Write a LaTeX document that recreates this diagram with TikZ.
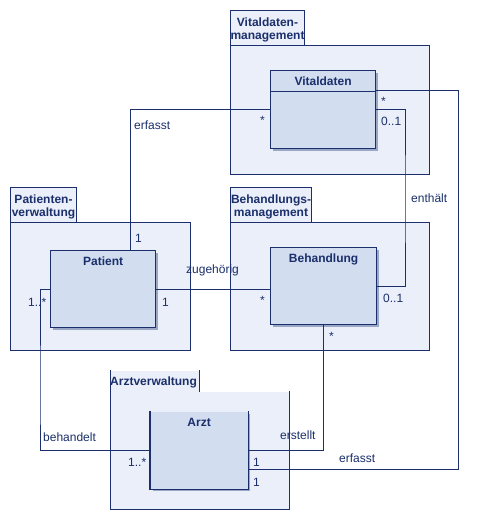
\documentclass[tikz,border=0pt]{standalone}
\usepackage{fontspec}
\setmainfont{Liberation Sans}
\usepackage{xcolor}
\usepackage{tikz}
\usetikzlibrary{calc,shadows}
\definecolor{umlline}{HTML}{1A2F6B}
\definecolor{pkgfill}{HTML}{EBEFF9}
\definecolor{classfill}{HTML}{D2DDF0}
\definecolor{shade}{HTML}{9AA6C6}
\tikzset{
  PkgBody/.style={
    draw=umlline, fill=pkgfill, line width=1pt,
    anchor=north west, inner sep=0pt
  },
  PkgTab/.style={
    PkgBody, align=center, text=umlline, text height=25.7pt,
    font=\bfseries\fontsize{12}{13}\selectfont
  },
  UmlClass/.style={
    draw=umlline, fill=classfill, line width=1.2pt,
    anchor=north west, inner sep=0pt,
    drop shadow={shadow xshift=2pt, shadow yshift=-2pt, fill=shade, opacity=1}
  },
  ClassName/.style={anchor=base, inner sep=0pt, text=umlline,
    font=\bfseries\fontsize{12}{13}\selectfont},
  Assoc/.style={draw=umlline, line width=1pt},
  Role/.style={anchor=base west, inner sep=0pt, text=umlline,
    font=\fontsize{12}{13}\selectfont}
}

\begin{document}
\begin{tikzpicture}[x=1pt, y=-1pt, line cap=butt, line join=miter]
  \useasboundingbox (0,0) rectangle (486,520);

  % packages
  \node[PkgBody, minimum width=199pt, minimum height=129pt] (vitpkg) at (230,45) {};
  \node[PkgTab, minimum width=74pt, minimum height=35pt] (vittab) at (230,10) {Vitaldaten-\\management};
  \node[PkgBody, minimum width=180pt, minimum height=128pt] (patpkg) at (10,222) {};
  \node[PkgTab, minimum width=66pt, minimum height=35pt] (pattab) at (10,187) {Patienten-\\verwaltung};
  \node[PkgBody, minimum width=199pt, minimum height=128pt] (behpkg) at (230,222) {};
  \node[PkgTab, minimum width=81pt, minimum height=35pt] (behtab) at (230,187) {Behandlungs-\\management};
  \node[PkgBody, draw=none, minimum width=178pt, minimum height=117pt] (arzpkg) at (110,391) {};
  \node[PkgBody, draw=none, minimum width=88pt, minimum height=21pt] (arztab) at (110,370) {};
  \node[ClassName, anchor=base west] (arztabname) at (110,385) {Arztverwaltung};
  \draw[Assoc] (arztab.north west) |- (arzpkg.south east) -- (arzpkg.north east);
  \draw[Assoc] (arztab.north east) -- (arztab.south east);

  % classes
  \node[UmlClass, minimum width=105pt, minimum height=78pt] (vitaldaten) at (270,70) {};
  \draw[Assoc] ([yshift=-21pt]vitaldaten.north west) -- ([yshift=-21pt]vitaldaten.north east);
  \node[UmlClass, minimum width=105pt, minimum height=77pt] (patient) at (50,250) {};
  \node[UmlClass, minimum width=106pt, minimum height=77pt] (behandlung) at (270,247) {};
  \node[UmlClass, draw=none, minimum width=97pt, minimum height=77pt] (arzt) at (150,411) {};
  \draw[umlline, line width=1.2pt] (arzt.north west) |- (arzt.south east) -- (arzt.north east);

  \node[ClassName] (vitaldatenname) at ([yshift=-15pt]vitaldaten.north) {Vitaldaten};
  \node[ClassName] (patientname) at ([yshift=-15pt]patient.north) {Patient};
  \node[ClassName] (behandlungname) at ([yshift=-15pt]behandlung.north) {Behandlung};
  \node[ClassName] (arztname) at ([yshift=-15pt]arzt.north) {Arzt};

  % associations
  \coordinate (k1) at (130,0);
  \coordinate (k3) at (405,200);
  \coordinate (k4) at (40,400);
  \coordinate (k6) at (458,469);
  \coordinate (k7) at (458,90);
  \draw[Assoc] (patient.north -| k1) |- (vitaldaten.west);
  \draw[Assoc] (patient.east) -- (patient.east -| behandlung.west);
  \draw[Assoc] (vitaldaten.east) -| (k3) |- (behandlung.east);
  \draw[Assoc] (patient.west) -| (k4) |- (arzt.west);
  \draw[Assoc] (behandlung.south) |- (arzt.east);
  \draw[Assoc] (arzt.east |- k6) -- (k6) -- (k7) -- (vitaldaten.east |- k7);

  % labels and multiplicities
  \node[Role] (erfasstA) at (134,129) {erfasst};
  \node[Role] (mPatTop) at (135,242) {1};
  \node[Role] (mVitLeft) at (260,124) {*};
  \node[Role] (mVitRight) at (381,125) {0..1};
  \node[Role] (mVitTop) at (381,105) {*};
  \node[Role] (enthaelt) at (411,202) {enthält};
  \node[Role] (zugehoerig) at (186,273) {zugehörig};
  \node[Role] (mPatEast) at (162,306) {1};
  \node[Role] (mPatWest) at (28,306) {1..*};
  \node[Role] (mBehWest) at (260,304) {*};
  \node[Role] (mBehEast) at (383,302) {0..1};
  \node[Role] (mBehSouth) at (329,340) {*};
  \node[Role] (behandelt) at (43,441) {behandelt};
  \node[Role] (erstellt) at (280,439) {erstellt};
  \node[Role] (erfasstB) at (339,462) {erfasst};
  \node[Role] (mArzWest) at (128,466) {1..*};
  \node[Role] (mArzEastA) at (253,466) {1};
  \node[Role] (mArzEastB) at (253,486) {1};
\end{tikzpicture}
\end{document}
